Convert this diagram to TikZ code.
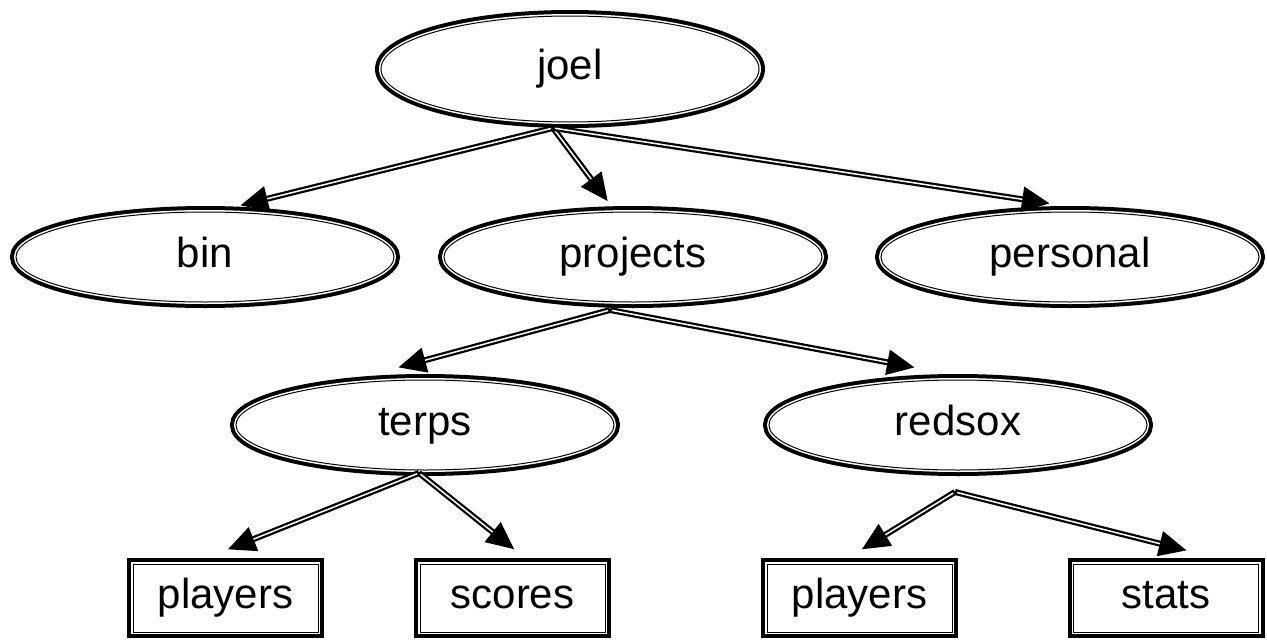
\documentclass[tikz,border=0pt]{standalone}
\usepackage{fontspec}
\setmainfont{Liberation Sans}
\usetikzlibrary{shapes.geometric,arrows.meta}

\begin{document}
\begin{tikzpicture}[x=1pt,y=-1pt,
    rim/.style={preaction={draw,line width=12pt},preaction={draw=white,line width=4pt},
      fill=white,draw,line width=1pt,inner sep=0pt,text height=30pt,text depth=9pt,
      font=\fontsize{42}{50}\selectfont},
    dirnode/.style={rim,ellipse,minimum width=378pt,minimum height=90pt},
    filenode/.style={rim,rectangle,minimum width=185pt,minimum height=68pt},
    link/.style={line width=6pt,-{Triangle[length=28pt,width=24pt]},
      postaction={draw=white,line width=1.5pt,-,shorten >=28pt,shorten <=2pt}}]
    \useasboundingbox (0,0) rectangle (1267,640);
    \node[dirnode,minimum height=106pt] (joel) at (570,69) {joel};
    \node[dirnode] (bin) at (205,257) {bin};
    \node[dirnode] (projects) at (633,257) {projects};
    \node[dirnode] (personal) at (1070,257) {personal};
    \node[dirnode] (terps) at (425,425) {terps};
    \node[dirnode] (redsox) at (958,425) {redsox};
    \node[filenode] (tplayers) at (225.5,598) {players};
    \node[filenode] (tscores) at (512.5,598) {scores};
    \node[filenode] (rplayers) at (859.5,598) {players};
    \node[filenode] (rstats) at (1166,598) {stats};
    \coordinate (joel-out) at (553,128);
    \coordinate (projects-out) at (610,310);
    \coordinate (terps-out) at (419,473);
    \coordinate (redsox-out) at (955,492);
    \draw[link] (joel-out) -- ([shift={(35,-6)}]bin.north);
    \draw[link] (joel-out) -- ([shift={(-25,-10)}]projects.north);
    \draw[link] (joel-out) -- ([shift={(-20,-8)}]personal.north);
    \draw[link] (projects-out) -- ([shift={(-27,-12)}]terps.north);
    \draw[link] (projects-out) -- ([shift={(-43,-12)}]redsox.north);
    \draw[link] (terps-out) -- ([shift={(2,-14)}]tplayers.north);
    \draw[link] (terps-out) -- ([shift={(2,-14)}]tscores.north);
    \draw[link] (redsox-out) -- ([shift={(2,-14)}]rplayers.north);
    \draw[link] (redsox-out) -- ([shift={(21,-13)}]rstats.north);
\end{tikzpicture}
\end{document}
